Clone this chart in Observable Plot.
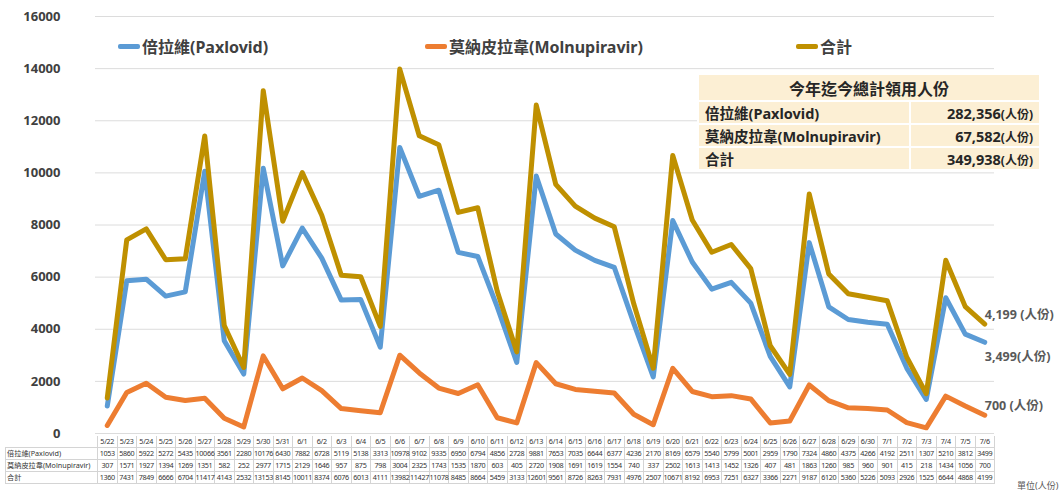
<!DOCTYPE html>
<html><head><meta charset="utf-8">
<script src="https://cdn.jsdelivr.net/npm/d3@7"></script>
<script src="https://cdn.jsdelivr.net/npm/@observablehq/plot@0.6"></script>
<style>
body{margin:0;background:#fff;font-family:"Noto Sans","Noto Sans CJK TC",sans-serif;}
#wrap{position:relative;width:1062px;height:497px;overflow:hidden;}
.leg{position:absolute;font-size:16px;font-weight:bold;color:#404040;display:flex;align-items:center;white-space:nowrap;}
.leg span.sw{display:inline-block;width:22px;height:5px;border-radius:2px;margin-right:2px;}
#summary{position:absolute;left:697px;top:73px;width:344px;border-collapse:collapse;font-weight:bold;color:#262626;}
#summary td{background:#fcefd4;border:2px solid #fff;padding:0 6px;height:19px;font-size:14.5px;}
#summary td.h{text-align:center;font-size:16px;height:25px;}
#summary td.v{text-align:right;width:116px;}
#summary small{font-size:12px;}
#dtab{position:absolute;border-collapse:collapse;table-layout:fixed;font-size:7.2px;color:#333;letter-spacing:-0.3px;}
#dtab td{border:1px solid #d4d4d4;height:11px;padding:0;text-align:center;white-space:nowrap;overflow:visible;line-height:11px;}
#dtab td.lab{text-align:left;padding-left:1px;letter-spacing:0;}
#dtab tr.hd td{border-top:none;}
#dtab tr.hd td.lab{border:none;}
#unit{position:absolute;left:1017px;top:479px;font-size:9px;color:#595959;}
</style></head><body><div id="wrap"></div>
<script>
const dates = ["5/22","5/23","5/24","5/25","5/26","5/27","5/28","5/29","5/30","5/31","6/1","6/2","6/3","6/4","6/5","6/6","6/7","6/8","6/9","6/10","6/11","6/12","6/13","6/14","6/15","6/16","6/17","6/18","6/19","6/20","6/21","6/22","6/23","6/24","6/25","6/26","6/27","6/28","6/29","6/30","7/1","7/2","7/3","7/4","7/5","7/6"];
const paxlovid = [1053,5860,5922,5272,5435,10066,3561,2280,10176,6430,7882,6728,5119,5138,3313,10978,9102,9335,6950,6794,4856,2728,9881,7653,7035,6644,6377,4236,2170,8169,6579,5540,5799,5001,2959,1790,7324,4860,4375,4266,4192,2511,1307,5210,3812,3499];
const molnupiravir = [307,1571,1927,1394,1269,1351,582,252,2977,1715,2129,1646,957,875,798,3004,2325,1743,1535,1870,603,405,2720,1908,1691,1619,1554,740,337,2502,1613,1413,1452,1326,407,481,1863,1260,985,960,901,415,218,1434,1056,700];
const total = [1360,7431,7849,6666,6704,11417,4143,2532,13153,8145,10011,8374,6076,6013,4111,13982,11427,11078,8485,8664,5459,3133,12601,9561,8726,8263,7931,4976,2507,10671,8192,6953,7251,6327,3366,2271,9187,6120,5360,5226,5093,2926,1525,6644,4868,4199];
const seriesNames = ["倍拉維(Paxlovid)","莫納皮拉韋(Molnupiravir)","合計"];
const seriesColors = ["#5b9bd5","#ed7d31","#bf9000"];
const yTicks = [0,2000,4000,6000,8000,10000,12000,14000,16000];
const endSuffix = ["(人份)"," (人份)"," (人份)"];
const summaryTitle = "今年迄今總計領用人份";
const summaryValues = ["282,356","67,582","349,938"];
const summaryUnit = "(人份)";
const unitText = "單位(人份)";

const seriesValues = [paxlovid, molnupiravir, total];
const long = [];
seriesNames.forEach((s,i)=>dates.forEach((d,j)=>long.push({series:s,date:d,value:seriesValues[i][j]})));
const last = dates.length-1;
const endDy = [15,-9,-9];
const ends = seriesNames.map((s,i)=>({series:s,date:dates[last],value:seriesValues[i][last],
  label:d3.format(",")(seriesValues[i][last])+endSuffix[i], dy:endDy[i]}));

const chart = Plot.plot({
  width:1062, height:497, marginLeft:97, marginRight:68, marginTop:16, marginBottom:64,
  style:{fontFamily:'"Noto Sans","Noto Sans CJK TC",sans-serif', background:"transparent", overflow:"visible"},
  x:{type:"point", domain:dates, padding:0.5, round:false, axis:null},
  y:{domain:[0,16000], axis:null},
  color:{domain:seriesNames, range:seriesColors},
  marks:[
    Plot.ruleY(yTicks,{stroke:"#dcdcdc", strokeWidth:1, insetLeft:-2}),
    Plot.axisY(yTicks,{tickSize:0, tickPadding:37, fontSize:13, fontWeight:"bold", fill:"#404040", tickFormat:d=>String(d), label:null}),
    Plot.line(long,{x:"date", y:"value", z:"series", stroke:"series", strokeWidth:5, strokeLinejoin:"round", strokeLinecap:"round"}),
    ...ends.map(e=>Plot.text([e],{x:"date", y:"value", text:"label", textAnchor:"start", dx:0, dy:e.dy, fontSize:12.5, fontWeight:"bold", fill:"#595959"}))
  ]
});
const wrap = document.getElementById("wrap");
wrap.appendChild(chart);

// legend
const legPos = [118,425,796];
seriesNames.forEach((s,i)=>{
  const d=document.createElement("div"); d.className="leg";
  d.style.left=legPos[i]+"px"; d.style.top="34px";
  d.innerHTML=`<span class="sw" style="background:${seriesColors[i]}"></span>${s}`;
  wrap.appendChild(d);
});

// summary box
const sum=document.createElement("table"); sum.id="summary";
let h=`<tr><td class="h" colspan="2">${summaryTitle}</td></tr>`;
seriesNames.forEach((s,i)=>{h+=`<tr><td>${s}</td><td class="v">${summaryValues[i]}<small>${summaryUnit}</small></td></tr>`;});
sum.innerHTML=h; wrap.appendChild(sum);

// data table
const xs = chart.scale("x");
const step = xs.apply(dates[1])-xs.apply(dates[0]);
const x0 = xs.apply(dates[0])-step/2;
const tab=document.createElement("table"); tab.id="dtab";
const labW = x0-5;
tab.style.left="5px"; tab.style.top="436px"; tab.style.width=(labW+step*dates.length)+"px";
let cg=`<colgroup><col style="width:${labW}px">`+dates.map(()=>`<col style="width:${step}px">`).join("")+`</colgroup>`;
let rows=`<tr class="hd"><td class="lab"></td>`+dates.map(d=>`<td>${d}</td>`).join("")+`</tr>`;
seriesNames.forEach((s,i)=>{rows+=`<tr><td class="lab">${s}</td>`+seriesValues[i].map(v=>`<td>${v}</td>`).join("")+`</tr>`;});
tab.innerHTML=cg+rows; wrap.appendChild(tab);
const u=document.createElement("div"); u.id="unit"; u.textContent=unitText; wrap.appendChild(u);
</script></body></html>
